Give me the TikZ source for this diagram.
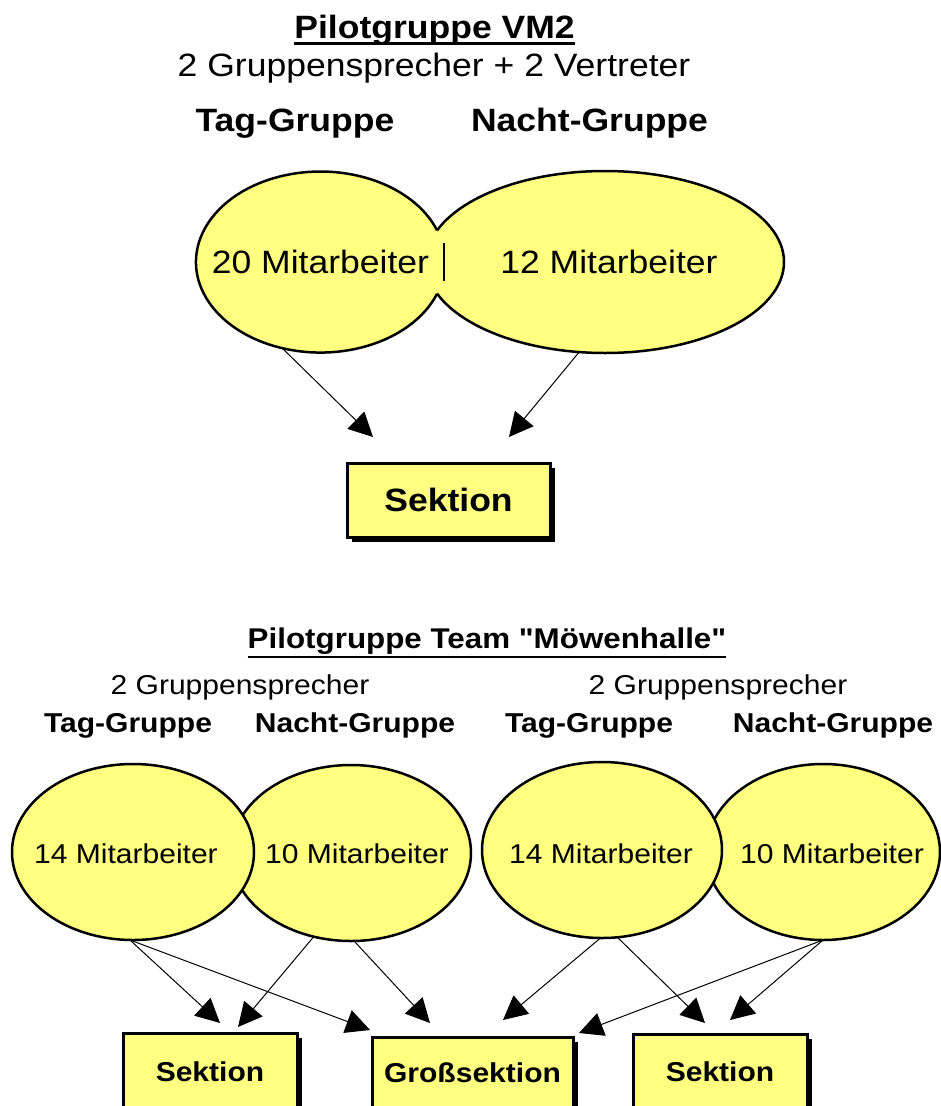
\documentclass[tikz,border=0pt]{standalone}
\usepackage{fontspec}
\setmainfont{Liberation Sans}
\newfontfamily\arialw[FakeStretch=1.1,Ligatures=TeXOff]{Liberation Sans}
\usepackage{tikz}
\usetikzlibrary{shapes.geometric}
\usetikzlibrary{arrows.meta}
\usetikzlibrary{shadows}
\usetikzlibrary{calc}
\definecolor{gelb}{HTML}{FFFF80}
\newcommand{\gross}{\arialw\fontsize{32.3}{36}\selectfont}
\newcommand{\klein}{\arialw\fontsize{27.3}{30}\selectfont}

\begin{document}
\begin{tikzpicture}[x=1pt,y=-1pt,
  txt/.style={anchor=base,inner sep=0pt},
  oval/.style={ellipse,draw,line width=2.5pt,fill=gelb,inner sep=0pt,outer sep=0pt},
  kasten/.style={draw,line width=3pt,fill=gelb,inner sep=0pt,outer sep=0pt,
    drop shadow={shadow xshift=5pt,shadow yshift=-5pt,fill=black,opacity=1}},
  pfeil/.style={line width=1pt,-{Triangle[length=24pt,width=24pt]}}]
\useasboundingbox (0,0) rectangle (941,1106);
\clip (0,0) rectangle (941,1106);

% Pilotgruppe VM2
\node[txt,font=\gross\bfseries] (titelA) at (434.5,38) {Pilotgruppe VM2};
\draw[line width=2.5pt] ($(titelA.base west)+(0,5.5)$) -- ($(titelA.base east)+(0,5.5)$);
\node[txt,font=\gross] (sprA) at (434,76) {2 Gruppensprecher + 2 Vertreter};
\node[txt,font=\gross\bfseries] (tagA) at (295,131) {Tag-Gruppe};
\node[txt,font=\gross\bfseries] (nachtA) at (589.5,131) {Nacht-Gruppe};

\node[oval,minimum width=358pt,minimum height=182pt] (nachtE) at (605,262) {};
\node[oval,draw=none,minimum width=249pt,minimum height=181pt] (tagE) at (320.5,262) {};
\draw[line width=2.5pt] ($(tagE.center)+(116.5,-31.8)$) arc[start angle=20.6,end angle=339.4,x radius=124.5pt,y radius=90.5pt];
\draw[line width=2.5pt] ($(tagE.east)+(-1,-19)$) -- ($(tagE.east)+(-1,19)$);
\node[txt,font=\gross] (zwanzig) at (320.5,273) {20 Mitarbeiter};
\node[txt,font=\gross] (zwoelf) at (609,273) {12 Mitarbeiter};

\node[kasten,font=\gross\bfseries,minimum width=203pt,minimum height=74pt] (sekA) at (448.5,500) {Sektion};

\coordinate (pA1) at (373,437);
\coordinate (pA2) at (509,437);
\draw[pfeil] (tagE.246) -- (pA1);
\draw[pfeil] (nachtE.254) -- (pA2);

% Pilotgruppe Team Moewenhalle
\node[txt,font={\arialw\bfseries\fontsize{28.5}{30}\selectfont}] (titelB) at (487,648) {Pilotgruppe Team "Möwenhalle"};
\draw[line width=2.5pt] ($(titelB.base west)+(0,9)$) -- ($(titelB.base east)+(0,9)$);
\node[txt,font=\klein] (sprB1) at (240,694) {2 Gruppensprecher};
\node[txt,font=\klein] (sprB2) at (718,694) {2 Gruppensprecher};
\node[txt,font=\klein\bfseries] (tagB1) at (128,732) {Tag-Gruppe};
\node[txt,font=\klein\bfseries] (nachtB1) at (355,732) {Nacht-Gruppe};
\node[txt,font=\klein\bfseries] (tagB2) at (589,732) {Tag-Gruppe};
\node[txt,font=\klein\bfseries] (nachtB2) at (833,732) {Nacht-Gruppe};

\node[oval,minimum width=240pt,minimum height=176pt] (eB2) at (351,853) {};
\node[oval,minimum width=242pt,minimum height=176pt] (eB1) at (133,852) {};
\node[oval,minimum width=234pt,minimum height=176pt] (eB4) at (823,852) {};
\node[oval,minimum width=240pt,minimum height=176pt] (eB3) at (602,850) {};
\node[txt,font=\klein] (vierzehnA) at (126,863) {14 Mitarbeiter};
\node[txt,font=\klein] (zehnA) at (357,863) {10 Mitarbeiter};
\node[txt,font=\klein] (vierzehnB) at (601,863) {14 Mitarbeiter};
\node[txt,font=\klein] (zehnB) at (832,863) {10 Mitarbeiter};

\node[kasten,font=\klein\bfseries,minimum width=174pt,minimum height=78pt] (sekB1) at (210,1072) {Sektion};
\node[kasten,font=\klein\bfseries,minimum width=201pt,minimum height=72pt] (grossB) at (472.5,1073) {Großsektion};
\node[kasten,font=\klein\bfseries,minimum width=174pt,minimum height=76pt] (sekB3) at (720,1072) {Sektion};

\coordinate (pB1) at (220,1023);
\coordinate (pB2) at (238,1027);
\coordinate (pB3) at (370,1030);
\coordinate (pB4) at (430,1023);
\coordinate (pB5) at (503,1020);
\coordinate (pB6) at (579,1033);
\coordinate (pB7) at (705,1023);
\coordinate (pB8) at (730,1020);
\draw[pfeil] (eB1.268) -- (pB1);
\draw[pfeil] (eB1.268) -- (pB3);
\draw[pfeil] (eB2.246) -- (pB2);
\draw[pfeil] (eB2.272) -- (pB4);
\draw[pfeil] (eB3.269) -- (pB5);
\draw[pfeil] (eB3.280) -- (pB7);
\draw[pfeil] (eB4.270) -- (pB6);
\draw[pfeil] (eB4.270) -- (pB8);
\end{tikzpicture}
\end{document}
